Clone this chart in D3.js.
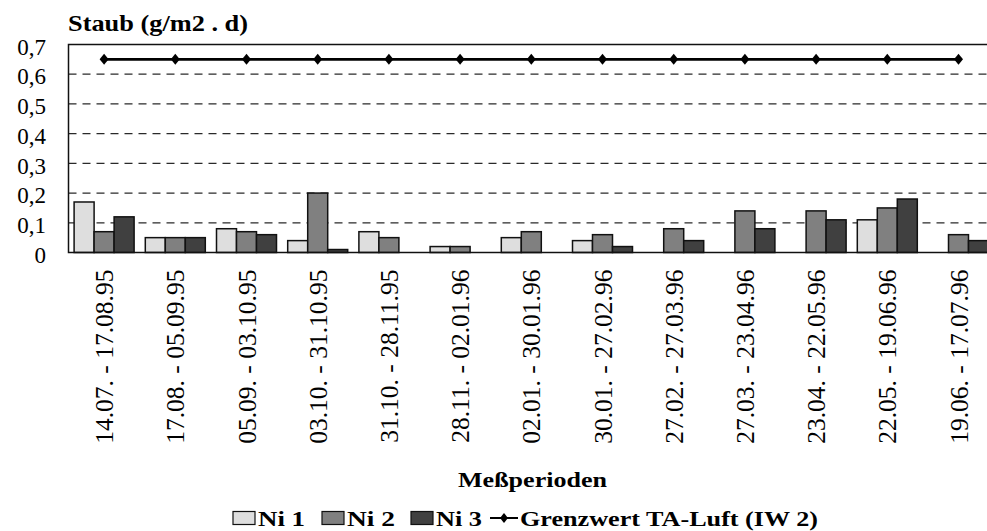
<!DOCTYPE html>
<html>
<head>
<meta charset="utf-8">
<script src="https://cdn.jsdelivr.net/npm/d3@7"></script>
<style>
  html, body { margin: 0; padding: 0; background: #fff; overflow: hidden; }
  svg { display: block; }
  svg text { font-family: "Liberation Serif", "Times New Roman", Times, serif; }
</style>
</head>
<body>
<svg id="chart" width="987" height="531"></svg>
<script>
// Measurement periods (x categories)
const categories = [
  "14.07. - 17.08.95", "17.08. - 05.09.95", "05.09. - 03.10.95", "03.10. - 31.10.95",
  "31.10. - 28.11.95", "28.11. - 02.01.96", "02.01. - 30.01.96", "30.01. - 27.02.96",
  "27.02. - 27.03.96", "27.03. - 23.04.96", "23.04. - 22.05.96", "22.05. - 19.06.96",
  "19.06. - 17.07.96"
];
// Dust deposition per station (g/m2 . d); null = no measurement
const ni1 = [0.17, 0.05, 0.08, 0.04, 0.07, 0.02, 0.05, 0.04, null, null, null, 0.11, null];
const ni2 = [0.07, 0.05, 0.07, 0.20, 0.05, 0.02, 0.07, 0.06, 0.08, 0.14, 0.14, 0.15, 0.06];
const ni3 = [0.12, 0.05, 0.06, 0.01, null, null, null, 0.02, 0.04, 0.08, 0.11, 0.18, 0.04];
// Limit value TA-Luft (IW 2)
const grenzwert = [0.65, 0.65, 0.65, 0.65, 0.65, 0.65, 0.65, 0.65, 0.65, 0.65, 0.65, 0.65, 0.65];
// Y tick values
const yTicks = [0, 0.1, 0.2, 0.3, 0.4, 0.5, 0.6, 0.7];

const seriesNames = ["Ni 1", "Ni 2", "Ni 3"];
const seriesData = [ni1, ni2, ni3];
const seriesFill = ["#dedede", "#808080", "#404040"];

const svg = d3.select("#chart");
const plot = { left: 68.5, top: 44.5, bottom: 252.5, step: 71.2 };
plot.right = plot.left + plot.step * categories.length;

const x = d3.scaleBand().domain(categories).range([plot.left, plot.right]).padding(0);
const groupWidth = 60;
const xSub = d3.scaleBand().domain(seriesNames).range([0, groupWidth]).padding(0);
const groupOffset = (x.bandwidth() - groupWidth) / 2;
const y = d3.scaleLinear().domain([0, 0.7]).range([plot.bottom, plot.top]);

// Dashed gridlines
svg.append("g")
  .selectAll("line")
  .data(yTicks.filter(v => v > 0 && v < 0.7))
  .join("line")
  .attr("x1", plot.left).attr("x2", plot.right)
  .attr("y1", d => y(d)).attr("y2", d => y(d))
  .attr("stroke", "#2a2a2a").attr("stroke-width", 1.2)
  .attr("stroke-dasharray", "8,6");

// Bars
const rows = [];
categories.forEach((c, i) => {
  seriesNames.forEach((s, j) => {
    const v = seriesData[j][i];
    if (v != null) rows.push({ c, s, v, fill: seriesFill[j] });
  });
});
svg.append("g")
  .selectAll("rect")
  .data(rows)
  .join("rect")
  .attr("x", d => x(d.c) + groupOffset + xSub(d.s))
  .attr("y", d => y(d.v))
  .attr("width", xSub.bandwidth())
  .attr("height", d => y(0) - y(d.v))
  .attr("fill", d => d.fill)
  .attr("stroke", "#111").attr("stroke-width", 1.5);

// Plot frame
svg.append("rect")
  .attr("x", plot.left).attr("y", plot.top)
  .attr("width", plot.right - plot.left).attr("height", plot.bottom - plot.top)
  .attr("fill", "none").attr("stroke", "#111").attr("stroke-width", 1.5);

// Limit line with diamond markers
const diamond = (w, h) => `M0,${-h / 2}L${w / 2},0L0,${h / 2}L${-w / 2},0Z`;
const line = d3.line()
  .x((d, i) => x(categories[i]) + x.bandwidth() / 2)
  .y(d => y(d));
svg.append("path")
  .datum(grenzwert)
  .attr("d", line)
  .attr("fill", "none").attr("stroke", "#000").attr("stroke-width", 2.6);
svg.append("g")
  .selectAll("path")
  .data(grenzwert)
  .join("path")
  .attr("transform", (d, i) => `translate(${x(categories[i]) + x.bandwidth() / 2},${y(d)})`)
  .attr("d", diamond(9, 11))
  .attr("fill", "#000");

// Y axis labels
const yAxis = d3.axisLeft(y)
  .tickValues(yTicks)
  .tickSize(0)
  .tickPadding(0)
  .tickFormat(d => d3.format("")(d).replace(".", ","));
const gy = svg.append("g")
  .attr("transform", "translate(46,0)")
  .call(yAxis);
gy.select(".domain").remove();
gy.selectAll("text")
  .attr("font-size", 23)
  .attr("fill", "#000")
  .attr("dy", "0.42em");

// X axis labels (rotated)
const xAxis = d3.axisBottom(x).tickSize(0).tickPadding(0);
const gx = svg.append("g")
  .attr("transform", `translate(0,${plot.bottom})`)
  .call(xAxis);
gx.select(".domain").remove();
gx.selectAll("text")
  .attr("font-size", 25.5)
  .attr("fill", "#000")
  .attr("text-anchor", "end")
  .attr("dy", null)
  .attr("y", 0)
  .attr("transform", "translate(9,17) rotate(-90)");

// Y axis title
svg.append("text")
  .attr("x", 68).attr("y", 31)
  .attr("font-weight", "bold").attr("font-size", 23)
  .attr("textLength", 180).attr("lengthAdjust", "spacingAndGlyphs")
  .text("Staub (g/m2 . d)");

// X axis title
svg.append("text")
  .attr("x", 458).attr("y", 487)
  .attr("font-weight", "bold").attr("font-size", 22)
  .attr("textLength", 149).attr("lengthAdjust", "spacingAndGlyphs")
  .text("Meßperioden");

// Legend
const legend = svg.append("g");
const legendItems = [
  { name: "Ni 1", fill: seriesFill[0], box: 233, tx: 258, tw: 47 },
  { name: "Ni 2", fill: seriesFill[1], box: 322, tx: 347, tw: 48 },
  { name: "Ni 3", fill: seriesFill[2], box: 411, tx: 436, tw: 46 }
];
legendItems.forEach(it => {
  legend.append("rect")
    .attr("x", it.box).attr("y", 511.5).attr("width", 22).attr("height", 13)
    .attr("fill", it.fill).attr("stroke", "#111").attr("stroke-width", 1.2);
  legend.append("text")
    .attr("x", it.tx).attr("y", 526)
    .attr("font-weight", "bold").attr("font-size", 22)
    .attr("textLength", it.tw).attr("lengthAdjust", "spacingAndGlyphs")
    .text(it.name);
});
legend.append("line")
  .attr("x1", 490).attr("x2", 518).attr("y1", 518).attr("y2", 518)
  .attr("stroke", "#000").attr("stroke-width", 2);
legend.append("path")
  .attr("transform", "translate(504,518)")
  .attr("d", diamond(8, 10))
  .attr("fill", "#000");
legend.append("text")
  .attr("x", 520).attr("y", 526)
  .attr("font-weight", "bold").attr("font-size", 22)
  .attr("textLength", 298).attr("lengthAdjust", "spacingAndGlyphs")
  .text("Grenzwert TA-Luft (IW 2)");
</script>
</body>
</html>
